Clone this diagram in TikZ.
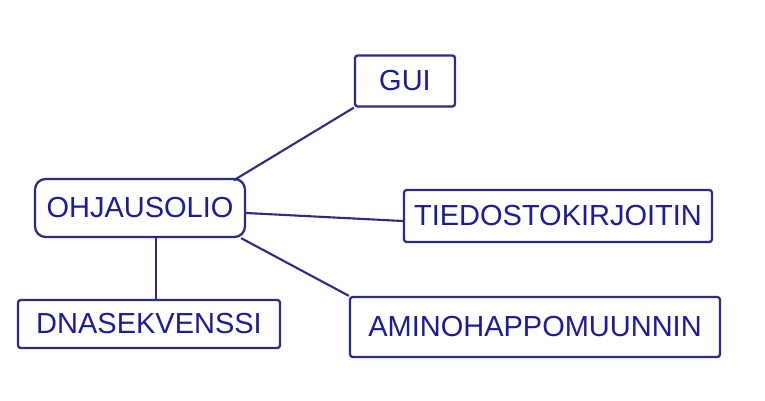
\documentclass[tikz,border=0pt]{standalone}
\usepackage{fontspec}
\setmainfont{Liberation Sans}
\usepackage{tikz}
\usetikzlibrary{positioning}
\definecolor{ink}{RGB}{44,44,132}
\definecolor{inktext}{RGB}{28,28,150}
\tikzset{
  box/.style={draw=ink,line width=1.3pt,rectangle,rounded corners=1.5pt,inner sep=0pt,text=inktext,font=\fontsize{16.5}{18}\selectfont},
  link/.style={draw=ink,line width=1.2pt}
}

\begin{document}
\begin{tikzpicture}[x=0.02cm,y=-0.02cm]
\useasboundingbox[fill=white] (0,0) rectangle (765,400);
\node[box,minimum width=2cm,minimum height=1.02cm] (G) at (405,81) {GUI};
\node[box,rounded corners=6pt,minimum width=4.2cm,minimum height=1.16cm] (O) at (140,208) {OHJAUSOLIO};
\node[box,minimum width=6.16cm,minimum height=1.04cm] (T) at (558,216) {TIEDOSTOKIRJOITIN};
\node[box,minimum width=5.24cm,minimum height=0.96cm] (D) at (149,324) {DNASEKVENSSI};
\node[box,minimum width=7.4cm,minimum height=1.2cm] (A) at (535,327) {AMINOHAPPOMUUNNIN};

\draw[link] ([xshift=-0.25cm,yshift=-0.05cm]O.north east) -- (G.south west);
\draw[link] ([yshift=-0.1cm]O.east) -- ([yshift=-0.1cm]T.west);
\draw[link] ([xshift=0.32cm]O.south) -- ([xshift=0.32cm]O.south |- D.north);
\draw[link] ([xshift=-0.1cm]O.south east) -- (A.north west);
\end{tikzpicture}
\end{document}
